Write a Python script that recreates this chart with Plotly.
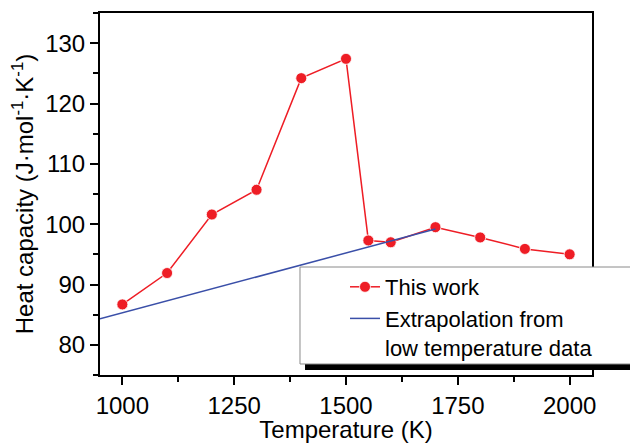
import plotly.graph_objects as go

# Data
temp_this_work = [1000, 1100, 1200, 1300, 1400, 1500, 1550, 1600, 1700, 1800, 1900, 2000]
cp_this_work = [86.7, 91.9, 101.6, 105.7, 124.2, 127.4, 97.3, 97.0, 99.5, 97.8, 95.9, 95.0]
temp_extrap = [950, 1700]
cp_extrap = [84.3, 99.2]

x_ticks = [1000, 1250, 1500, 1750, 2000]
y_ticks = [80, 90, 100, 110, 120, 130]

FONT = "Liberation Sans, Arial, sans-serif"
RED = "#ee1d25"
BLUE = "#3a4fa8"
FS = 24

fig = go.Figure()
fig.add_trace(go.Scatter(
    x=temp_this_work, y=cp_this_work, mode="lines+markers", name="This work",
    line=dict(color=RED, width=1.5),
    marker=dict(color=RED, size=11, line=dict(color="white", width=0.8)),
))
fig.add_trace(go.Scatter(
    x=temp_extrap, y=cp_extrap, mode="lines", name="Extrapolation from<br>low temperature data",
    line=dict(color=BLUE, width=1.5),
))

axis_common = dict(
    showline=True, linecolor="black", linewidth=2, mirror=True,
    ticks="outside", ticklen=8, tickwidth=1.5, tickcolor="black",
    showgrid=False, zeroline=False, automargin=False,
    tickfont=dict(family=FONT, size=FS, color="black"),
)

fig.update_xaxes(
    range=[950, 2050], tickvals=x_ticks,
    minor=dict(dtick=125, tick0=1000, ticklen=5, ticks="outside", tickcolor="black", tickwidth=1.5),
    title=dict(text="Temperature (K)", font=dict(family=FONT, size=FS, color="black"), standoff=5),
    **axis_common,
)
fig.update_yaxes(
    range=[75, 135], tickvals=y_ticks,
    minor=dict(dtick=5, tick0=75, ticklen=5, ticks="outside", tickcolor="black", tickwidth=1.5),
    title=dict(text="Heat capacity (J·mol<sup>-1</sup>·K<sup>-1</sup>)",
               font=dict(family=FONT, size=FS, color="black"), standoff=5),
    **axis_common,
)

# Legend box and shadow
fig.add_shape(type="rect", xref="paper", yref="paper", x0=0.4167, x1=1.1, y0=0.0138, y1=0.0304,
              fillcolor="black", line=dict(width=0), layer="above")
fig.add_shape(type="rect", xref="paper", yref="paper", x0=0.4065, x1=1.1, y0=0.0304, y1=0.2983,
              fillcolor="white", line=dict(color="#8a8a8a", width=1), layer="above")

fig.update_layout(
    width=630, height=443,
    margin=dict(l=100, r=38, t=13, b=68, autoexpand=False),
    paper_bgcolor="white", plot_bgcolor="white",
    font=dict(family=FONT, color="black"),
    showlegend=True,
    legend=dict(
        x=(345 - 100) / 492, xanchor="left",
        y=(375 - 266) / 362, yanchor="top",
        bgcolor="rgba(0,0,0,0)", borderwidth=0,
        font=dict(family=FONT, size=22, color="black"),
        valign="top", tracegroupgap=0,
    ),
)

fig.write_html("out.html")
